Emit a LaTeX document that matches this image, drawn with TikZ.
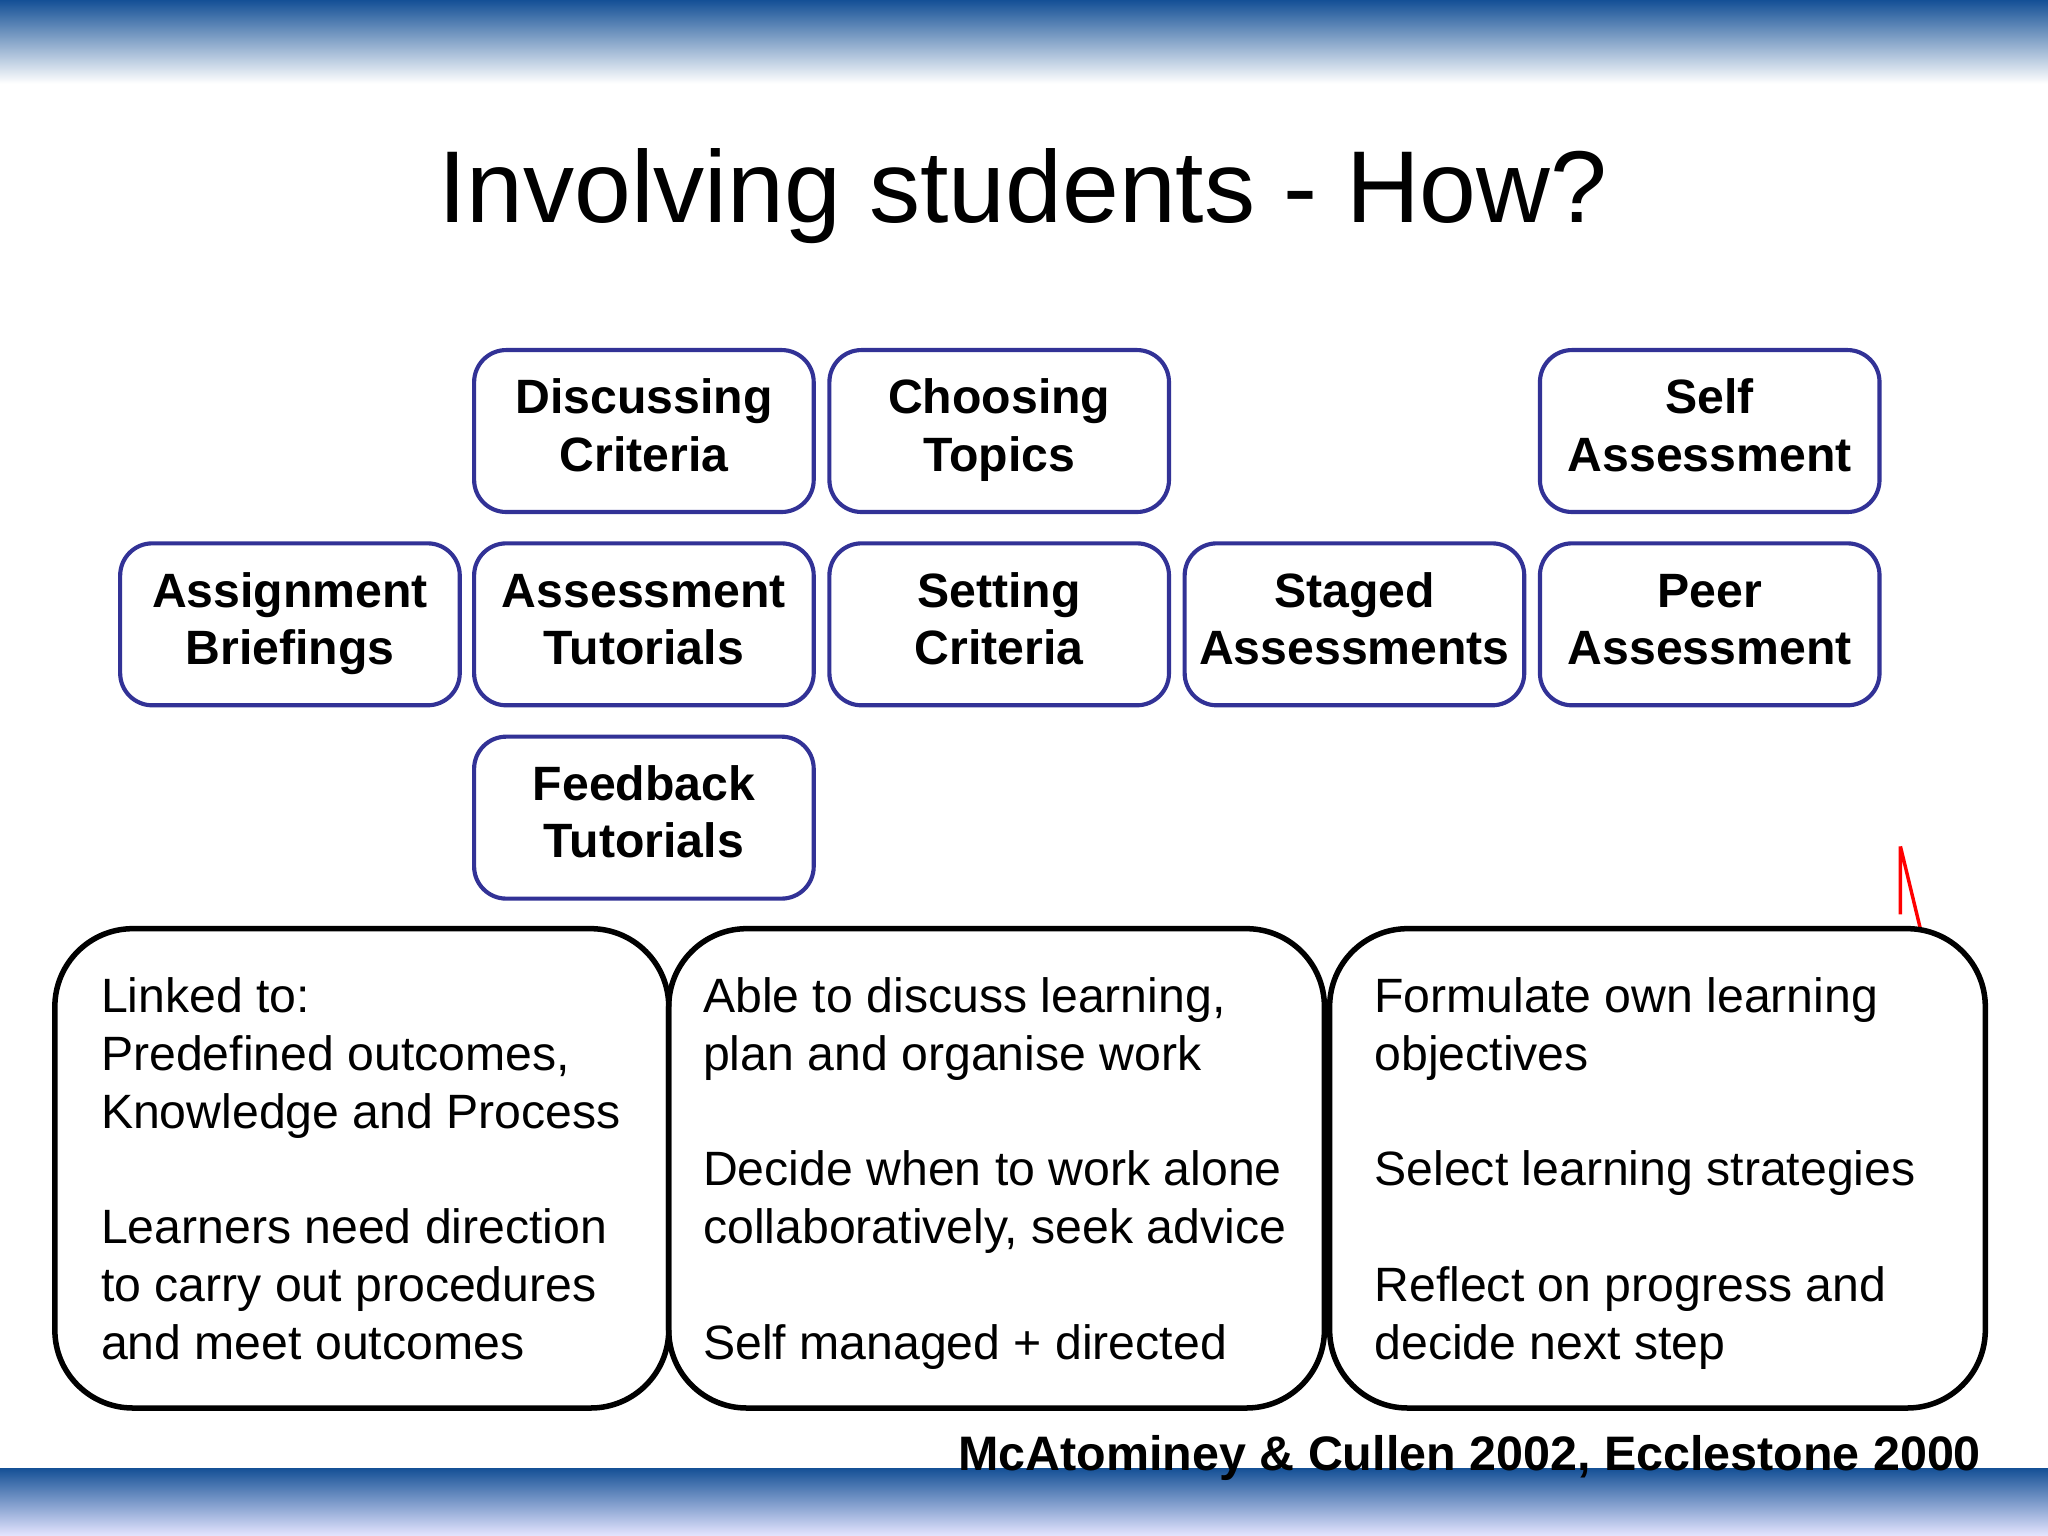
\documentclass[tikz,border=0pt]{standalone}
\usepackage{fontspec}
\setmainfont{Liberation Sans}
\begin{document}
\begin{tikzpicture}[x=0.02cm,y=-0.02cm,
  sbox/.style={draw={rgb,255:red,50;green,50;blue,150}, line width=1.8pt, rounded corners=14pt, minimum width=260*0.02cm, minimum height=124*0.02cm, align=center, font=\fontsize{21}{25}\selectfont\bfseries, inner sep=0pt},
  bbox/.style={draw=black, line width=2.4pt, rounded corners=34pt},
  btxt/.style={anchor=north west, align=left, font=\fontsize{21}{25.2}\selectfont, inner sep=0pt}]
\definecolor{barblue}{RGB}{20,80,150}
\useasboundingbox (0,0) rectangle (1568,1176);
\fill[white] (0,0) rectangle (1568,1176);
\shade[top color=barblue, bottom color=white] (0,0) rectangle (1568,64);
\shade[top color=barblue, bottom color=blue!10] (0,1124) rectangle (1568,1176);
\node[font=\fontsize{44.5}{50}\selectfont] (title) at (783,150) {Involving students - How?};
\newcommand{\twoln}[2]{\strut #1\\#2\strut}
\node[sbox] (dc) at (493,330) {\twoln{Discussing}{Criteria}};
\node[sbox] (ct) at (765,330) {\twoln{Choosing}{Topics}};
\node[sbox] (sa) at (1309,330) {\twoln{Self}{Assessment}};
\node[sbox] (ab) at (222,478) {\twoln{Assignment}{Briefings}};
\node[sbox] (at) at (493,478) {\twoln{Assessment}{Tutorials}};
\node[sbox] (sc) at (765,478) {\twoln{Setting}{Criteria}};
\node[sbox] (st) at (1037,478) {\twoln{Staged}{Assessments}};
\node[sbox] (pa) at (1309,478) {\twoln{Peer}{Assessment}};
\node[sbox] (ft) at (493,626) {\twoln{Feedback}{Tutorials}};
\draw[red, line width=1.5pt] (1455,648) -- (1455,700) (1455,648) -- (1470,710);
\draw[bbox] (42,711) rectangle (512,1078);
\draw[bbox] (512,711) rectangle (1014,1078);
\draw[bbox] (1018,711) rectangle (1520,1078);
\node[btxt] (t1) at (77,748) {Linked to:\\Predefined outcomes,\\Knowledge and Process\\[25.2pt]Learners need direction\\to carry out procedures\\and meet outcomes};
\node[btxt] (t2) at (538,748) {Able to discuss learning,\\plan and organise work\\[25.2pt]Decide when to work alone\\collaboratively, seek advice\\[25.2pt]Self managed + directed};
\node[btxt] (t3) at (1052,748) {Formulate own learning\\objectives\\[25.2pt]Select learning strategies\\[25.2pt]Reflect on progress and\\decide next step};
\node[anchor=base east, font=\fontsize{21.1}{24}\selectfont\bfseries, inner sep=0pt] (cite) at (1517,1126) {McAtominey \& Cullen 2002, Ecclestone 2000};
\end{tikzpicture}
\end{document}
